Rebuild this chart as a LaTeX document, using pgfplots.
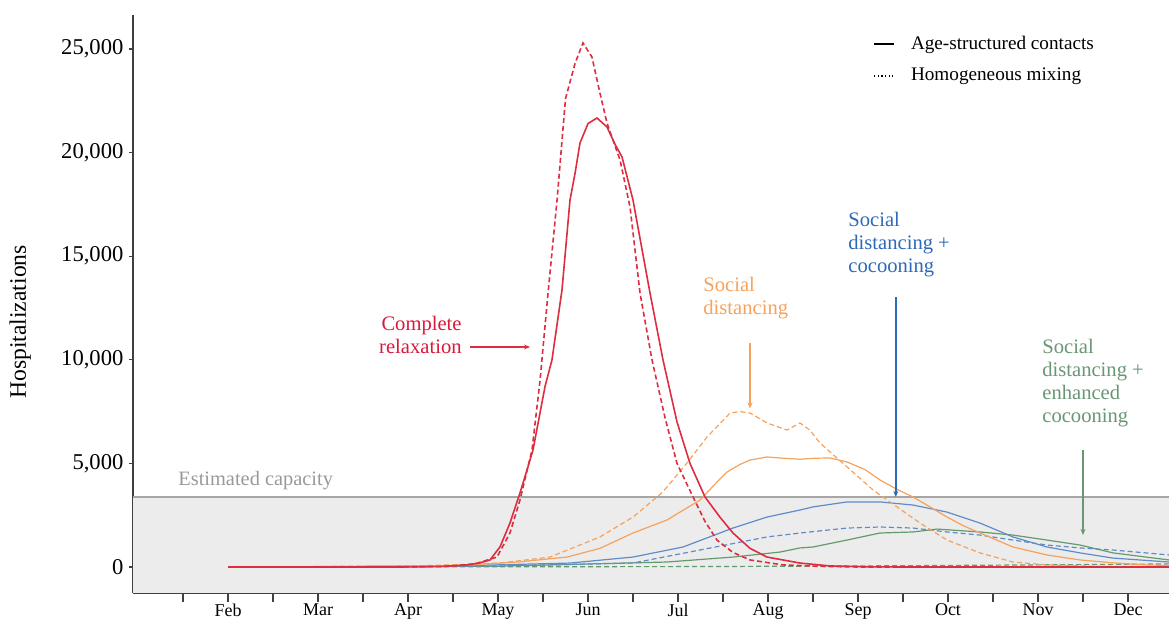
\documentclass[border=0pt]{standalone}
\usepackage{fontspec}
\setmainfont{Liberation Serif}
\usepackage{pgfplots}
\pgfplotsset{compat=1.18}
\usetikzlibrary{arrows.meta}
\definecolor{cred}{RGB}{222,45,65}
\definecolor{credt}{RGB}{215,25,60}
\definecolor{corange}{RGB}{246,162,92}
\definecolor{cblue}{RGB}{95,140,200}
\definecolor{cbluet}{RGB}{45,105,185}
\definecolor{cgreen}{RGB}{100,155,110}
\definecolor{cgreent}{RGB}{105,150,115}
\definecolor{band}{RGB}{236,236,236}
\begin{document}
\begin{tikzpicture}
\begin{axis}[name=ax, scale only axis, width=518pt, height=289pt,
  xmin=0.4444, xmax=11.9556, ymin=-1255, ymax=26640,
  axis x line*=bottom, axis y line*=left,
  axis line style={-, black!75, line width=0.8pt},
  tick align=outside,
  xtick={1,...,11}, xticklabels={},
  x tick style={black!75, line width=0.8pt, /pgfplots/major tick length=4.5pt},
  y tick style={black!75, line width=0.6pt, /pgfplots/major tick length=2pt},
  extra x ticks={1.5,2.5,...,11.5},
  extra x tick labels={Feb,Mar,Apr,May,Jun,Jul,Aug,Sep,Oct,Nov,Dec},
  extra x tick style={/pgfplots/major tick length=0pt, tick label style={font=\fontsize{9}{10}\selectfont, yshift=-2pt}},
  ytick={0,5000,10000,15000,20000,25000},
  scaled y ticks=false,
  yticklabel style={font=\fontsize{11.3}{13}\selectfont, xshift=3pt},
  /pgf/number format/.cd, 1000 sep={,}, assume math mode=true, /pgfplots/.cd,
  ylabel={Hospitalizations},
  ylabel style={at={(axis description cs:-0.109,0.469)}, anchor=center, font=\fontsize{11.8}{13}\selectfont},
  legend cell align=left,
  legend image code/.code={\draw[#1] (0pt,0pt) -- (10pt,0pt);},
  legend style={at={(axis cs:8.6,26040)}, anchor=north west, draw=none, fill=none,
    font=\fontsize{9.6}{11}\selectfont, row sep=4pt,
    /tikz/every odd column/.append style={column sep=6pt}},
  clip=true,
]
% capacity band
\addplot[draw=none, fill=band, forget plot] coordinates {(0.4444,-1255) (11.9556,-1255) (11.9556,3380) (0.4444,3380)} -- cycle;
\addplot[black!35, line width=0.8pt, forget plot] coordinates {(0.4444,3380) (11.9556,3380)};

% green dashed (homogeneous, enhanced cocooning)
\addplot[cgreen, line width=0.6pt, dash pattern=on 2.5pt off 1.5pt, forget plot] coordinates {
(1.5,0) (6.744,20) (8.967,60) (10.078,90) (11.189,120) (11.956,150)};
% green solid
\addplot[cgreen, line width=0.6pt, forget plot] coordinates {
(1.5,0) (4.522,40) (6.378,240) (7.111,480) (7.633,720) (7.856,920) (8.0,965) (8.378,1300) (8.744,1640) (9.111,1690) (9.378,1830) (9.856,1690) (10.222,1540) (10.6,1300) (10.967,1060) (11.333,680) (11.956,340)};
% blue dashed
\addplot[cblue, line width=0.6pt, dash pattern=on 2.5pt off 1.5pt, forget plot] coordinates {
(1.5,0) (4.522,50) (6.0,190) (6.744,820) (7.489,1450) (7.856,1640) (8.378,1880) (8.744,1930) (9.111,1880) (9.489,1690) (9.856,1540) (10.222,1300) (10.6,1060) (10.967,920) (11.333,820) (11.956,580)};
% blue solid
\addplot[cblue, line width=0.6pt, forget plot] coordinates {
(1.5,0) (4.0,50) (5.3,190) (6.0,480) (6.556,965) (7.111,1880) (7.489,2410) (7.856,2750) (8.0,2900) (8.378,3140) (8.744,3140) (9.111,2990) (9.489,2650) (9.856,2120) (10.222,1450) (10.6,965) (10.967,680) (11.333,430) (11.956,240)};
% orange dashed
\addplot[corange, line width=0.6pt, dash pattern=on 2.5pt off 1.5pt, forget plot] coordinates {
(1.5,0) (3.411,30) (3.967,100) (4.522,190) (5.078,480) (5.633,1450) (6.0,2410) (6.3,3500) (6.378,3860) (6.6,5020) (6.822,6270) (7.078,7430) (7.189,7500) (7.3,7430) (7.489,6950) (7.711,6610) (7.856,6950) (7.967,6600) (8.078,5980) (8.378,4830) (8.667,3720) (8.933,2900) (9.189,2120) (9.489,1300) (9.856,680) (10.222,240) (10.6,100) (11.189,30) (11.956,10)};
% orange solid
\addplot[corange, line width=0.6pt, forget plot] coordinates {
(1.5,0) (3.411,20) (4.189,100) (4.744,250) (5.267,480) (5.633,900) (6.0,1640) (6.378,2270) (6.744,3230) (6.911,4000) (7.044,4580) (7.189,4950) (7.3,5160) (7.489,5310) (7.633,5260) (7.856,5200) (8.022,5250) (8.189,5260) (8.378,5070) (8.578,4700) (8.744,4200) (8.933,3750) (9.111,3380) (9.3,2900) (9.489,2410) (9.667,2000) (9.856,1640) (10.222,965) (10.6,580) (10.967,340) (11.333,200) (11.711,100) (11.956,70)};
% red dashed
\addplot[cred, line width=0.8pt, dash pattern=on 2.5pt off 1.5pt, forget plot] coordinates {
(1.5,0) (3.411,0) (3.967,40) (4.244,150) (4.489,480) (4.633,1640) (4.744,3230) (4.878,5650) (4.967,9000) (5.056,13220) (5.156,17700) (5.25,22600) (5.356,24300) (5.444,25290) (5.544,24610) (5.633,22870) (5.711,21430) (5.856,19640) (5.967,17370) (6.078,13220) (6.211,10000) (6.356,7200) (6.489,5000) (6.667,3380) (6.8,2200) (6.933,1300) (7.111,700) (7.3,340) (7.667,100) (8.078,30) (8.5,0) (11.956,0)};
% red solid
\addplot[cred, line width=0.8pt, forget plot] coordinates {
(1.5,0) (3.411,0) (3.856,20) (4.156,100) (4.3,200) (4.411,340) (4.522,965) (4.633,2120) (4.744,3570) (4.822,4680) (4.889,5650) (5.022,8700) (5.1,10000) (5.211,13370) (5.3,17710) (5.356,19000) (5.411,20460) (5.5,21400) (5.6,21670) (5.711,21235) (5.8,20400) (5.878,19790) (6.0,17710) (6.189,13220) (6.333,10000) (6.489,7000) (6.633,5000) (6.8,3380) (6.967,2400) (7.111,1640) (7.3,900) (7.489,480) (7.856,190) (8.189,50) (8.633,10) (9.0,0) (11.956,0)};

\addlegendimage{black, line width=0.6pt}
\addlegendentry{Age-structured contacts}
\addlegendimage{black, line width=0.8pt, dash pattern=on 0.6pt off 1.2pt}
\addlegendentry{Homogeneous mixing}

% annotations
\node[anchor=west, text=black!40, font=\fontsize{10.2}{12}\selectfont, inner sep=0pt] at (axis cs:0.944,4150) {Estimated capacity};
\node[anchor=east, align=right, text=credt, font=\fontsize{10.3}{11.5}\selectfont, inner sep=0pt] at (axis cs:4.1,11200) {Complete\\relaxation};
\draw[cred, line width=0.6pt, -{Stealth[length=3pt,width=2.5pt]}] (axis cs:4.189,10617) -- (axis cs:4.856,10617);
\node[anchor=west, align=left, text=corange, font=\fontsize{10.3}{11.5}\selectfont, inner sep=0pt] at (axis cs:6.778,12980) {Social\\distancing};
\draw[corange, line width=0.6pt, -{Stealth[length=3pt,width=2.5pt]}] (axis cs:7.3,10810) -- (axis cs:7.3,7650);
\node[anchor=west, align=left, text=cbluet, font=\fontsize{10.3}{11.5}\selectfont, inner sep=0pt] at (axis cs:8.389,15540) {Social\\distancing +\\cocooning};
\draw[cbluet, line width=0.7pt, -{Stealth[length=3pt,width=2.5pt]}] (axis cs:8.92,13030) -- (axis cs:8.92,3380);
\node[anchor=west, align=left, text=cgreent, font=\fontsize{10.3}{11.5}\selectfont, inner sep=0pt] at (axis cs:10.544,8856) {Social\\distancing +\\enhanced\\cocooning};
\draw[cgreent, line width=0.6pt, -{Stealth[length=3pt,width=2.5pt]}] (axis cs:11.0,5646) -- (axis cs:11.0,1544);
\end{axis}
\pgfresetboundingbox
\path[use as bounding box] ([xshift=-66.5pt,yshift=-14pt]ax.south west) rectangle ([yshift=7.5pt]ax.north east);
\end{tikzpicture}
\end{document}
